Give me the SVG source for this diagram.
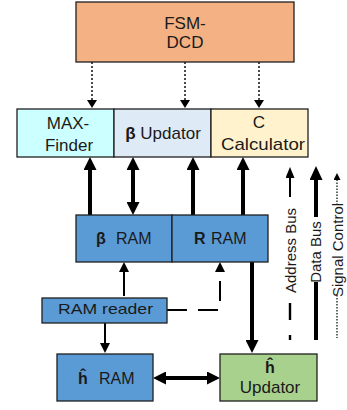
<svg xmlns="http://www.w3.org/2000/svg" width="347" height="410" viewBox="0 0 347 410">
<style>
text{font-family:"Liberation Sans",Arial,sans-serif;fill:#1a1a1a}
.box{stroke:#1f1f1f;stroke-width:1.3}
.t17{font-size:17px}
.t16{font-size:16px}
.t15{font-size:15px}
.b{font-weight:bold}
.thick{stroke:#000;stroke-width:4;fill:none}
.thin{stroke:#000;stroke-width:2;fill:none}
.dot{stroke:#000;stroke-width:1.4;stroke-dasharray:2 2;fill:none}
.dash{stroke:#000;stroke-width:2;stroke-dasharray:20 11;fill:none}
</style>
<defs>
<marker id="hb" viewBox="0 0 13 13" markerWidth="13" markerHeight="13" refX="0" refY="6.5" markerUnits="userSpaceOnUse" orient="auto-start-reverse"><path d="M0,0 L13,6.5 L0,13 z" fill="#000"/></marker>
<marker id="hm" viewBox="0 0 10 10" markerWidth="10" markerHeight="10" refX="0" refY="5" markerUnits="userSpaceOnUse" orient="auto-start-reverse"><path d="M0,0 L10,5 L0,10 z" fill="#000"/></marker>
<marker id="hs" viewBox="0 0 8 10" markerWidth="8" markerHeight="10" refX="0" refY="5" markerUnits="userSpaceOnUse" orient="auto"><path d="M0,0 L8,5 L0,10 z" fill="#000"/></marker>
<marker id="ha" viewBox="0 0 11 9" markerWidth="11" markerHeight="9" refX="0" refY="4.5" markerUnits="userSpaceOnUse" orient="auto"><path d="M0,0 L11,4.5 L0,9 z" fill="#000"/></marker>
<marker id="hd" viewBox="0 0 14 13" markerWidth="14" markerHeight="13" refX="0" refY="6.5" markerUnits="userSpaceOnUse" orient="auto"><path d="M0,0 L14,6.5 L0,13 z" fill="#000"/></marker>
<marker id="hc" viewBox="0 0 7 7" markerWidth="7" markerHeight="7" refX="0" refY="3.5" markerUnits="userSpaceOnUse" orient="auto"><path d="M0,0 L7,3.5 L0,7 z" fill="#000"/></marker>
</defs>

<g id="connectors">
<path class="dot" d="M92,62 V100" marker-end="url(#hs)"/>
<path class="dot" d="M185,62 V100" marker-end="url(#hs)"/>
<path class="dot" d="M259,62 V100" marker-end="url(#hs)"/>
<path class="thick" d="M90,215 V170" marker-end="url(#hb)"/>
<path class="thick" d="M133,170 V202" marker-start="url(#hb)" marker-end="url(#hb)"/>
<path class="thick" d="M193,215 V170" marker-end="url(#hb)"/>
<path class="thick" d="M243,215 V170" marker-end="url(#hb)"/>
<path class="thick" d="M252,262 V340" marker-end="url(#hb)"/>
<path class="thick" d="M166,378 H207" marker-start="url(#hb)" marker-end="url(#hb)"/>
<path class="thin" d="M124,296 V272" marker-end="url(#hm)"/>
<path class="thin" d="M105,323 V343" marker-end="url(#hm)"/>
<path class="dash" d="M167,310 H220 V272" marker-end="url(#hm)"/>
</g>

<g id="fsm-dcd">
<rect class="box" x="76" y="2" width="218" height="60" fill="#F4B183"/>
<text class="t17" x="185" y="29" text-anchor="middle">FSM-</text>
<text class="t17" x="185" y="48" text-anchor="middle">DCD</text>
</g>

<g id="max-finder">
<rect class="box" x="17" y="109" width="97" height="48" fill="#CCFFFF"/>
<text class="t17" x="68" y="129" text-anchor="middle">MAX-</text>
<text class="t17" x="69" y="151" text-anchor="middle">Finder</text>
</g>

<g id="beta-updator">
<rect class="box" x="114" y="109" width="97" height="48" fill="#DEEAF6"/>
<text class="t17" x="163" y="139" text-anchor="middle"><tspan class="b">β</tspan> Updator</text>
</g>

<g id="c-calculator">
<rect class="box" x="211" y="109" width="97" height="48" fill="#FFF2CC"/>
<text class="t17" x="259" y="128" text-anchor="middle">C</text>
<text class="t17" x="263" y="150" text-anchor="middle" textLength="84" lengthAdjust="spacingAndGlyphs">Calculator</text>
</g>

<g id="beta-ram">
<rect class="box" x="76" y="215" width="96" height="47" fill="#5B9BD5"/>
<text class="t16 b" x="96" y="244">β</text>
<text class="t16" x="116" y="244">RAM</text>
</g>

<g id="r-ram">
<rect class="box" x="172" y="215" width="96" height="47" fill="#5B9BD5"/>
<text class="t16 b" x="194" y="244">R</text>
<text class="t16" x="211" y="244">RAM</text>
</g>

<g id="ram-reader">
<rect class="box" x="42" y="298" width="125" height="25" fill="#5B9BD5"/>
<text class="t15" x="58" y="314" textLength="95" lengthAdjust="spacingAndGlyphs">RAM reader</text>
</g>

<g id="h-ram">
<rect class="box" x="57" y="354" width="96" height="47" fill="#5B9BD5"/>
<text class="t16 b" x="78" y="384">ĥ</text>
<text class="t16" x="99" y="384">RAM</text>
</g>

<g id="h-updator">
<rect class="box" x="220" y="354" width="97" height="47" fill="#A9D18E"/>
<text class="t16 b" x="270" y="373" text-anchor="middle">ĥ</text>
<text class="t17" x="270" y="393" text-anchor="middle">Updator</text>
</g>

<g id="legend">
<path d="M290,197 V178" stroke="#000" stroke-width="2" marker-end="url(#ha)"/>
<path d="M290,303 V320 M290,335 V340" stroke="#000" stroke-width="2.4"/>
<text class="t15" transform="translate(291,250.5) rotate(-90)" y="5.4" text-anchor="middle">Address Bus</text>
<path d="M316,217 V180" stroke="#000" stroke-width="4" marker-end="url(#hd)"/>
<path d="M316,282 V340" stroke="#000" stroke-width="4"/>
<text class="t15" transform="translate(315.5,252) rotate(-90)" y="5.4" text-anchor="middle">Data Bus</text>
<path d="M337,205 V180" stroke="#000" stroke-width="1.2" stroke-dasharray="1.5 1.5" marker-end="url(#hc)"/>
<path d="M337,295 V338" stroke="#000" stroke-width="1.2" stroke-dasharray="1.5 1.5"/>
<text class="t15" transform="translate(337.5,250) rotate(-90)" y="5.4" text-anchor="middle">Signal Control</text>
</g>
</svg>
